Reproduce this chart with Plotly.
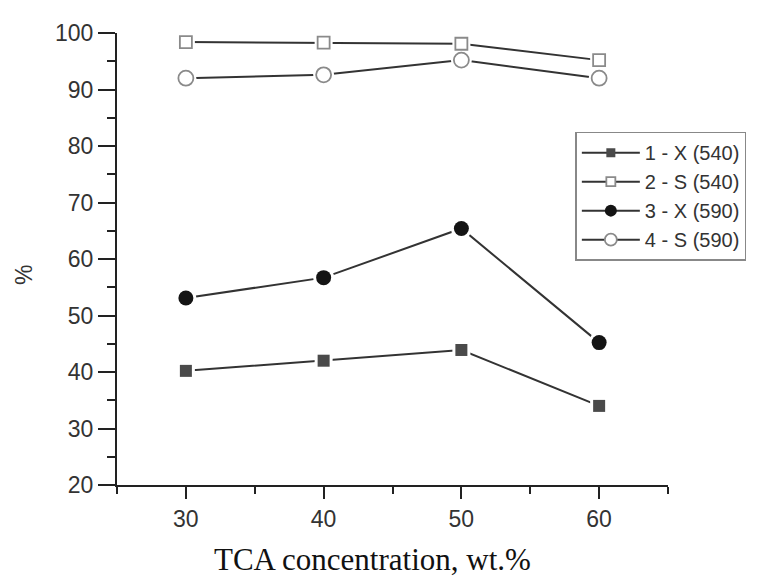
import plotly.graph_objects as go

# Data
tca = [30, 40, 50, 60]
x_540 = [40.2, 42.0, 43.9, 34.0]
s_540 = [98.4, 98.3, 98.1, 95.2]
x_590 = [53.1, 56.7, 65.4, 45.2]
s_590 = [92.0, 92.6, 95.2, 92.0]
names = ["1 - X (540)", "2 - S (540)", "3 - X (590)", "4 - S (590)"]

series = [
    (names[0], x_540, dict(symbol="square", size=12, color="#4a4a4a", line=dict(color="#4a4a4a", width=0))),
    (names[1], s_540, dict(symbol="square", size=12, color="white", line=dict(color="#8a8a8a", width=1.8))),
    (names[2], x_590, dict(symbol="circle", size=15, color="#141414", line=dict(color="#141414", width=0))),
    (names[3], s_590, dict(symbol="circle", size=15, color="white", line=dict(color="#8a8a8a", width=1.8))),
]

line_color = "#333333"
fig = go.Figure()

for name, ys, mk in series:
    fig.add_trace(go.Scatter(x=tca, y=ys, mode="lines", line=dict(color=line_color, width=2),
                             showlegend=False, hoverinfo="skip", cliponaxis=False))
for name, ys, mk in series:
    fig.add_trace(go.Scatter(x=tca, y=ys, mode="markers",
                             marker=dict(symbol=mk["symbol"], size=mk["size"] + 6, color="white",
                                         line=dict(width=0)),
                             showlegend=False, hoverinfo="skip", cliponaxis=False))
for name, ys, mk in series:
    fig.add_trace(go.Scatter(x=tca, y=ys, mode="markers", marker=mk, name=name,
                             showlegend=False, cliponaxis=False))
for name, ys, mk in series:
    lm = dict(mk)
    lm["size"] = mk["size"] - 3
    fig.add_trace(go.Scatter(x=[None], y=[None], mode="lines+markers", name=name,
                             line=dict(color=line_color, width=2), marker=lm))

axis_common = dict(
    showline=True, linecolor="#222222", linewidth=2,
    ticks="outside", tickcolor="#222222", tickwidth=2,
    showgrid=False, zeroline=False,
    tickfont=dict(family="Liberation Sans, Arial", size=23, color="#333333"),
)

fig.update_xaxes(range=[25, 65], tick0=30, dtick=10, ticklen=12,
                 minor=dict(tick0=25, dtick=5, ticklen=7, tickcolor="#222222", tickwidth=2, ticks="outside"),
                 **axis_common)
fig.update_yaxes(range=[20, 100], tick0=20, dtick=10, ticklen=17,
                 minor=dict(tick0=25, dtick=10, ticklen=8, tickcolor="#222222", tickwidth=2, ticks="outside"),
                 **axis_common)

# page has an 8px body offset; positions below are in window pixels
L, T, W, H = 109, 19, 559, 458.3
def px(xp):
    return (xp - 8 - L) / W
def py(yp):
    return (T + H - (yp - 8)) / H

fig.add_annotation(text="TCA concentration, wt.%", xref="paper", yref="paper",
                   x=px(376.5), y=py(561),
                   xanchor="center", yanchor="middle", showarrow=False,
                   font=dict(family="Liberation Serif, Times New Roman", size=31, color="#111111"))
fig.add_annotation(text="%", xref="paper", yref="paper",
                   x=px(22), y=py(272), textangle=-90,
                   xanchor="center", yanchor="middle", showarrow=False,
                   font=dict(family="Liberation Sans, Arial", size=23, color="#333333"))

fig.update_layout(
    width=750, height=572,
    margin=dict(l=109, r=82, t=19, b=95),
    paper_bgcolor="white", plot_bgcolor="white",
    legend=dict(x=px(582), y=py(127), xanchor="left", yanchor="top",
                bordercolor="#888888", borderwidth=1.5, bgcolor="white",
                font=dict(family="Liberation Sans, Arial", size=20, color="#333333"),
                itemwidth=58, tracegroupgap=0),
    showlegend=True,
)

fig.write_html("out.html")
